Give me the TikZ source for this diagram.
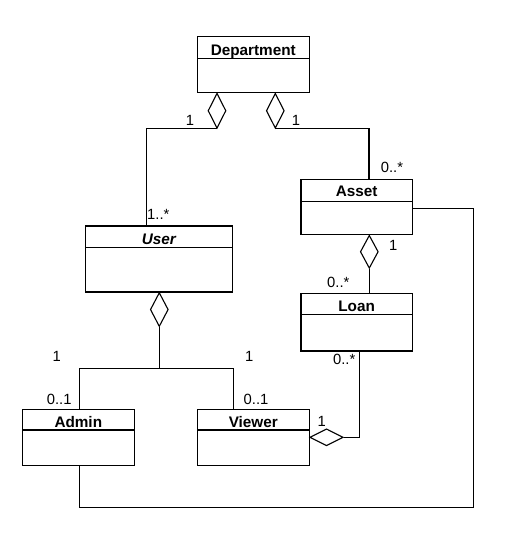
\documentclass[tikz,border=0pt]{standalone}
\usepackage{fontspec}
\setmainfont{Liberation Sans}
\usetikzlibrary{shapes.geometric}
\begin{document}
\begin{tikzpicture}[x=1pt,y=-1pt,
  line width=1.1pt,
  classbox/.style={draw,rectangle,inner sep=0pt,fill=white},
  cname/.style={anchor=base,inner sep=0pt,font=\fontsize{15.3}{18}\selectfont\bfseries},
  mult/.style={anchor=base,inner sep=0pt,font=\fontsize{14.8}{17}\selectfont},
  agg/.style={draw,diamond,inner sep=0pt,fill=white}]
\useasboundingbox (0,0) rectangle (508,533);
% classes
\node[classbox,minimum width=112pt,minimum height=56pt] (dept) at (253.3,64.7) {};
\draw (197.3,58.3) -- (309.3,58.3);
\node[cname] (deptname) at (253.3,55) {Department};

\node[classbox,minimum width=111.3pt,minimum height=55.4pt] (asset) at (356.65,207) {};
\draw (301,201.3) -- (412.3,201.3);
\node[cname] (assetname) at (356.65,196.7) {Asset};

\node[classbox,minimum width=147pt,minimum height=66pt] (user) at (158.8,259) {};
\draw (85.3,247.3) -- (232.3,247.3);
\node[cname,font=\fontsize{15.3}{18}\selectfont\bfseries\itshape] (username) at (158.8,244) {User};

\node[classbox,minimum width=111.3pt,minimum height=57.7pt] (loan) at (356.65,322.15) {};
\draw (301,314.7) -- (412.3,314.7);
\node[cname] (loanname) at (356.65,311) {Loan};

\node[classbox,minimum width=112pt,minimum height=56pt] (admin) at (78.3,437.3) {};
\draw (22.3,430) -- (134.3,430);
\node[cname] (adminname) at (78.3,427.3) {Admin};

\node[classbox,minimum width=112pt,minimum height=56pt] (viewer) at (253.3,437.3) {};
\draw (197.3,430) -- (309.3,430);
\node[cname] (viewername) at (253.3,427.3) {Viewer};

% coordinates
\coordinate (uTop) at (146.7,226);
\coordinate (aTop) at (369,179.3);
\coordinate (lTop) at (369.3,293.3);
\coordinate (J) at (159.3,368.3);
\coordinate (adTop) at (79.3,409.3);
\coordinate (vTop) at (233.3,409.3);
\coordinate (lBot) at (359.3,351);
\coordinate (adBot) at (79.3,465.3);
\coordinate (asR) at (412.3,208.3);
\coordinate (c1) at (473.3,507.3);

% aggregation diamonds
\node[agg,minimum width=18pt,minimum height=35pt,anchor=north] (dgA) at (217,92.7) {};
\node[agg,minimum width=18pt,minimum height=35pt,anchor=north] (dgB) at (275.3,92.7) {};
\node[agg,minimum width=18pt,minimum height=33pt,anchor=north] (dgC) at (369.3,234.7) {};
\node[agg,minimum width=18pt,minimum height=34pt,anchor=north] (dgD) at (159.3,292) {};
\node[agg,minimum width=33.4pt,minimum height=17pt,anchor=west] (dgE) at (309.3,437.3) {};

% connectors
\draw (dgA.south) -| (uTop);
\draw (dgB.south) -| (aTop);
\draw (dgC.south) -- (lTop);
\draw (dgD.south) -- (J);
\draw (adTop) |- (J) -| (vTop);
\draw (lBot) |- (dgE.east);
\draw (adBot) |- (c1) |- (asR);

% multiplicities
\node[mult] (m1) at (190,125) {1};
\node[mult] (m2) at (296,125) {1};
\node[mult] (m3) at (392,172.7) {0..*};
\node[mult] (m4) at (158.3,219.3) {1..*};
\node[mult] (m5) at (393.3,250) {1};
\node[mult] (m6) at (338.3,287.7) {0..*};
\node[mult] (m7) at (56.7,361) {1};
\node[mult] (m8) at (249.3,361) {1};
\node[mult] (m9) at (59.2,404.3) {0..1};
\node[mult] (m10) at (256,404.3) {0..1};
\node[mult] (m11) at (344.2,364) {0..*};
\node[mult] (m12) at (321.8,426) {1};
\end{tikzpicture}
\end{document}
